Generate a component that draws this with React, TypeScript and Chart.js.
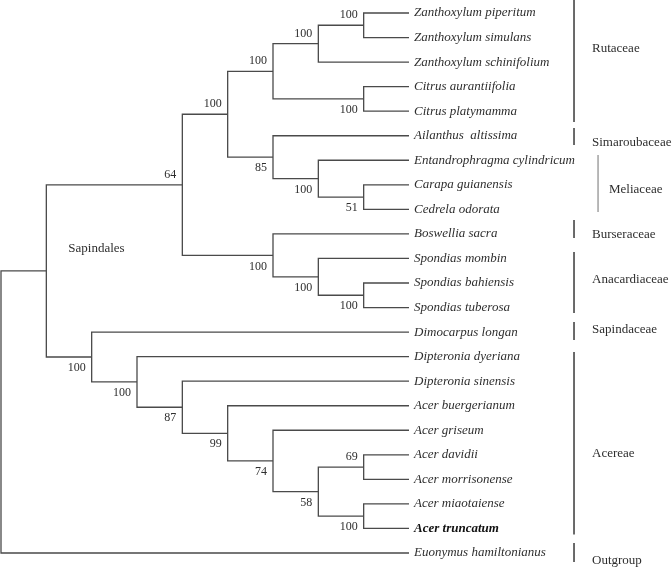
import React, { useEffect, useRef } from 'react';
import { Chart, registerables } from 'chart.js';

Chart.register(...registerables);

// ---------- DATA ----------
const species = [
  'Zanthoxylum piperitum',
  'Zanthoxylum simulans',
  'Zanthoxylum schinifolium',
  'Citrus aurantiifolia',
  'Citrus platymamma',
  'Ailanthus  altissima',
  'Entandrophragma cylindricum',
  'Carapa guianensis',
  'Cedrela odorata',
  'Boswellia sacra',
  'Spondias mombin',
  'Spondias bahiensis',
  'Spondias tuberosa',
  'Dimocarpus longan',
  'Dipteronia dyeriana',
  'Dipteronia sinensis',
  'Acer buergerianum',
  'Acer griseum',
  'Acer davidii',
  'Acer morrisonense',
  'Acer miaotaiense',
  'Acer truncatum',
  'Euonymus hamiltonianus',
];
const boldSpecies = ['Acer truncatum'];

// topology: [upper child, lower child, bootstrap support]; numbers are indices into species
type TNode = number | [TNode, TNode, number | null];
const topology: TNode = [
  [
    [
      [
        [[[0, 1, 100], 2, 100], [3, 4, 100], 100],
        [5, [6, [7, 8, 51], 100], 85],
        100,
      ],
      [9, [10, [11, 12, 100], 100], 100],
      64,
    ],
    [13, [14, [15, [16, [17, [[18, 19, 69], [20, 21, 100], 58], 74], 99], 87], 100], 100],
    null,
  ],
  22,
  null,
];
const cladeName = 'Sapindales';

const families = ['Rutaceae', 'Simaroubaceae', 'Meliaceae', 'Burseraceae', 'Anacardiaceae', 'Sapindaceae', 'Acereae', 'Outgroup'];
const familyFrom = [-0.53, 4.69, 5.79, 8.43, 9.74, 12.59, 13.81, 21.59];
const familyTo = [4.44, 5.38, 8.11, 9.17, 12.22, 13.32, 21.25, 22.37];
const familyLabelAt = [1.43, 5.26, 7.21, 9.04, 10.88, 12.91, 17.93, 22.29];
const innerFamilies = ['Meliaceae'];

// ---------- STYLE ----------
const W = 672;
const H = 567;
const BRACKET_X = 12.64;
const BRACKET_X_INNER = 13.17;
const LINE = '#4a4a4a';
const TEXT = '#2e2e2e';
const SERIF = '"Liberation Serif", "DejaVu Serif", serif';

interface LNode {
  x: number;
  y: number;
  h: number;
  support: number | null;
  children: LNode[];
  upper: boolean;
}

function build(n: TNode, upper: boolean): LNode {
  if (typeof n === 'number') return { x: 0, y: n, h: 0, support: null, children: [], upper };
  const a = build(n[0], true);
  const b = build(n[1], false);
  return { x: 0, y: (a.y + b.y) / 2, h: 1 + Math.max(a.h, b.h), support: n[2], children: [a, b], upper };
}
function assignX(n: LNode, depth: number) {
  n.x = depth - n.h;
  n.children.forEach((c) => assignX(c, depth));
}
function internals(n: LNode, out: LNode[] = []): LNode[] {
  if (n.children.length) {
    out.push(n);
    n.children.forEach((c) => internals(c, out));
  }
  return out;
}

export default function App() {
  const ref = useRef<HTMLCanvasElement>(null);
  useEffect(() => {
    if (!ref.current) return;
    const root = build(topology, true);
    const maxH = root.h;
    assignX(root, maxH);
    const nodes = internals(root);
    const sap = root.children[0];

    const treeSets = nodes.map((n) => {
      const [a, b] = n.children;
      return {
        type: 'scatter' as const,
        data: [
          { x: a.x, y: a.y },
          { x: n.x, y: a.y },
          { x: n.x, y: b.y },
          { x: b.x, y: b.y },
        ],
        showLine: true,
        borderColor: LINE,
        borderWidth: 1.3,
        pointRadius: 0,
        tension: 0,
        clip: false as const,
        borderJoinStyle: 'miter' as const,
      };
    });
    const bracketSets = families.map((f, i) => {
      const inner = innerFamilies.includes(f);
      const bx = inner ? BRACKET_X_INNER : BRACKET_X;
      return {
        type: 'scatter' as const,
        data: [
          { x: bx, y: familyFrom[i] },
          { x: bx, y: familyTo[i] },
        ],
        showLine: true,
        borderColor: inner ? '#8a8a8a' : '#3a3a3a',
        borderWidth: inner ? 1.2 : 1.5,
        pointRadius: 0,
        clip: false as const,
      };
    });

    const textPlugin = {
      id: 'treeText',
      afterDatasetsDraw(chart: any) {
        const ctx = chart.ctx as CanvasRenderingContext2D;
        const xs = chart.scales.x;
        const ys = chart.scales.y;
        ctx.save();
        ctx.fillStyle = TEXT;
        ctx.textBaseline = 'middle';
        // species
        ctx.textAlign = 'left';
        species.forEach((s, i) => {
          const bold = boldSpecies.includes(s);
          ctx.font = `italic ${bold ? 'bold ' : ''}13px ${SERIF}`;
          ctx.fillStyle = bold ? '#111' : TEXT;
          ctx.fillText(s, xs.getPixelForValue(maxH) + 5, ys.getPixelForValue(i));
        });
        ctx.fillStyle = TEXT;
        // supports
        ctx.font = `12px ${SERIF}`;
        ctx.textAlign = 'right';
        nodes.forEach((n) => {
          if (n.support == null) return;
          const px = xs.getPixelForValue(n.x) - 6;
          const py = ys.getPixelForValue(n.y) + (n.upper ? -10 : 11);
          ctx.fillText(String(n.support), px, py);
        });
        // families
        ctx.font = `13px ${SERIF}`;
        ctx.textAlign = 'left';
        families.forEach((f, i) => {
          const inner = innerFamilies.includes(f);
          const px = inner ? xs.getPixelForValue(BRACKET_X_INNER) + 11 : xs.getPixelForValue(BRACKET_X) + 18;
          ctx.fillText(f, px, ys.getPixelForValue(familyLabelAt[i]));
        });
        // clade label
        ctx.fillText(cladeName, xs.getPixelForValue(sap.x) + 22, ys.getPixelForValue(sap.y) - 22);
        ctx.restore();
      },
    };

    const chart = new Chart(ref.current, {
      type: 'scatter',
      data: { datasets: [...treeSets, ...bracketSets] as any },
      options: {
        animation: false,
        responsive: false,
        devicePixelRatio: 1,
        events: [],
        layout: { padding: { left: 1, right: W - 409, top: 13, bottom: H - 553 } },
        plugins: { legend: { display: false }, tooltip: { enabled: false } },
        scales: {
          x: { type: 'linear', min: 0, max: maxH, display: false },
          y: { type: 'linear', min: 0, max: species.length - 1, reverse: true, display: false },
        },
      },
      plugins: [textPlugin],
    });
    return () => chart.destroy();
  }, []);

  return (
    <div style={{ position: 'fixed', left: 0, top: 0, width: W, height: H, background: '#fff' }}>
      <canvas ref={ref} width={W} height={H} style={{ width: W, height: H, display: 'block' }} />
    </div>
  );
}
